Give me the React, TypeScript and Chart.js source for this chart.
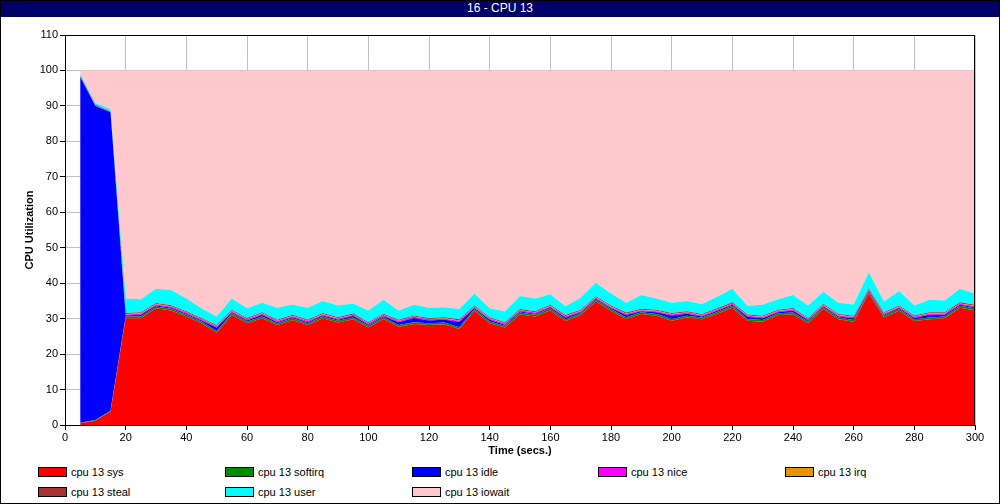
import React, { useEffect, useRef } from 'react';
import { Chart, registerables } from 'chart.js';

Chart.register(...registerables);

const titleText = '16 - CPU 13';
const xTitle = 'Time (secs.)';
const yTitle = 'CPU Utilization';

const times = [5, 10, 15, 20, 25, 30, 35, 40, 45, 50, 55, 60, 65, 70, 75, 80, 85, 90, 95, 100,
  105, 110, 115, 120, 125, 130, 135, 140, 145, 150, 155, 160, 165, 170, 175, 180, 185, 190, 195, 200,
  205, 210, 215, 220, 225, 230, 235, 240, 245, 250, 255, 260, 265, 270, 275, 280, 285, 290, 295, 300];

const sys = [0.5, 1.2, 3.8, 30.1, 30.1, 32.9, 32.3, 30.6, 28.7, 26.0, 31.0, 28.7, 30.1, 28.2, 29.6, 28.2, 30.1, 28.9, 29.8, 27.5,
  29.9, 27.7, 28.5, 28.2, 28.4, 27.1, 32.2, 28.7, 27.5, 31.2, 30.6, 32.4, 29.3, 31.0, 34.8, 32.2, 29.9, 31.3, 30.8, 29.4,
  30.3, 29.8, 31.4, 33.1, 29.4, 29.1, 31.0, 31.2, 28.7, 32.7, 29.8, 29.1, 37.1, 30.3, 32.2, 29.3, 29.8, 30.1, 33.1, 32.4];

const softirq = [0.1, 0.2, 0.2, 0.5, 0.5, 0.5, 0.5, 0.5, 0.5, 0.5, 0.5, 0.5, 0.5, 0.5, 0.5, 0.5, 0.5, 0.5, 0.5, 0.5,
  0.5, 0.5, 0.5, 0.5, 0.5, 0.5, 0.5, 0.5, 0.5, 0.5, 0.5, 0.5, 0.5, 0.5, 0.5, 0.5, 0.5, 0.5, 0.5, 0.5,
  0.5, 0.5, 0.5, 0.5, 0.5, 0.5, 0.5, 0.5, 0.5, 0.5, 0.5, 0.5, 0.5, 0.5, 0.5, 0.5, 0.5, 0.5, 0.5, 0.5];

const idle = [97.6, 88.6, 84.2, 0.3, 0.5, 0.3, 0.3, 0.3, 0.3, 1.0, 0.3, 0.3, 0.5, 0.3, 0.3, 0.3, 0.3, 0.3, 0.5, 0.3,
  0.3, 0.8, 1.2, 0.8, 0.8, 1.5, 0.3, 0.5, 0.3, 0.3, 0.3, 0.3, 0.5, 0.3, 0.3, 0.3, 0.6, 0.3, 0.5, 1.0,
  0.6, 0.3, 0.3, 0.3, 0.6, 0.5, 0.3, 0.6, 0.3, 0.3, 0.3, 0.5, 0.3, 0.3, 0.3, 0.4, 0.8, 0.5, 0.3, 0.3];

const nice = [0.1, 0.1, 0.1, 0.3, 0.3, 0.3, 0.3, 0.3, 0.3, 0.3, 0.3, 0.3, 0.3, 0.3, 0.3, 0.3, 0.3, 0.3, 0.3, 0.3,
  0.3, 0.3, 0.3, 0.3, 0.3, 0.3, 0.3, 0.3, 0.3, 0.3, 0.3, 0.3, 0.3, 0.3, 0.3, 0.3, 0.3, 0.3, 0.3, 0.3,
  0.3, 0.3, 0.3, 0.3, 0.3, 0.3, 0.3, 0.3, 0.3, 0.3, 0.3, 0.3, 0.3, 0.3, 0.3, 0.3, 0.3, 0.3, 0.3, 0.3];

const irq = [0, 0, 0, 0.1, 0.1, 0.1, 0.1, 0.1, 0.1, 0.1, 0.1, 0.1, 0.1, 0.1, 0.1, 0.1, 0.1, 0.1, 0.1, 0.1,
  0.1, 0.1, 0.1, 0.1, 0.1, 0.1, 0.1, 0.1, 0.1, 0.1, 0.1, 0.1, 0.1, 0.1, 0.1, 0.1, 0.1, 0.1, 0.1, 0.1,
  0.1, 0.1, 0.1, 0.1, 0.1, 0.1, 0.1, 0.1, 0.1, 0.1, 0.1, 0.1, 0.1, 0.1, 0.1, 0.1, 0.1, 0.1, 0.1, 0.1];

const steal = [0.2, 0.2, 0.2, 0.3, 0.3, 0.3, 0.3, 0.3, 0.3, 0.3, 0.3, 0.3, 0.3, 0.3, 0.3, 0.3, 0.3, 0.3, 0.3, 0.3,
  0.3, 0.3, 0.3, 0.3, 0.3, 0.3, 0.3, 0.3, 0.3, 0.3, 0.3, 0.3, 0.3, 0.3, 0.3, 0.3, 0.3, 0.3, 0.3, 0.3,
  0.3, 0.3, 0.3, 0.3, 0.3, 0.3, 0.3, 0.3, 0.3, 0.3, 0.3, 0.3, 0.3, 0.3, 0.3, 0.3, 0.3, 0.3, 0.3, 0.3];

const user = [0.6, 0.5, 0.6, 4.1, 3.7, 4.0, 4.3, 3.6, 2.7, 2.4, 3.2, 2.7, 2.7, 3.4, 2.9, 3.4, 3.4, 3.3, 2.8, 3.3,
  3.9, 2.6, 3.0, 2.9, 2.8, 2.9, 3.4, 2.5, 3.0, 3.7, 3.6, 3.0, 2.5, 3.4, 3.8, 3.4, 2.8, 3.9, 3.2, 2.9,
  2.9, 2.8, 3.3, 3.8, 2.4, 3.1, 3.0, 3.7, 3.5, 3.4, 3.2, 3.2, 4.5, 3.0, 4.1, 2.8, 3.5, 3.3, 3.8, 3.2];

const iowait = [0.9, 9.2, 10.9, 64.3, 64.5, 61.6, 61.9, 64.3, 67.1, 69.4, 64.3, 67.1, 65.5, 66.9, 66.0, 66.9, 65.0, 66.3, 65.7, 67.7,
  64.7, 67.7, 66.1, 66.9, 66.8, 67.3, 62.9, 67.1, 68.0, 63.6, 64.3, 63.1, 66.5, 64.1, 59.9, 62.9, 65.5, 63.3, 64.3, 65.5,
  65.0, 65.9, 63.8, 61.6, 66.4, 66.1, 64.5, 63.3, 66.3, 62.4, 65.5, 66.0, 56.9, 65.2, 62.2, 66.3, 64.7, 64.9, 61.6, 62.9];

const seriesNames = ['cpu 13 sys', 'cpu 13 softirq', 'cpu 13 idle', 'cpu 13 nice', 'cpu 13 irq', 'cpu 13 steal', 'cpu 13 user', 'cpu 13 iowait'];
const seriesValues = [sys, softirq, idle, nice, irq, steal, user, iowait];
const seriesColors = ['#ff0000', '#008c00', '#0000ff', '#ff00ff', '#e69500', '#a83232', '#00ffff', '#ffc8cc'];

const legendCols = [38, 225, 412, 598, 785];
const legendRows = [467, 487];

const FONT = 'Arial, "Liberation Sans", sans-serif';

const frameBorder = {
  id: 'frameBorder',
  afterDatasetsDraw(chart: any) {
    const { ctx, chartArea } = chart;
    const l = Math.round(chartArea.left) + 0.5;
    const r = Math.round(chartArea.right) - 0.5;
    const t = Math.round(chartArea.top) + 0.5;
    const b = Math.round(chartArea.bottom) - 0.5;
    ctx.save();
    ctx.strokeStyle = '#000';
    ctx.lineWidth = 1;
    ctx.beginPath();
    ctx.moveTo(l, t);
    ctx.lineTo(r, t);
    ctx.lineTo(r, b);
    ctx.stroke();
    ctx.restore();
  },
};

export default function App() {
  const ref = useRef<HTMLCanvasElement>(null);

  useEffect(() => {
    document.body.style.margin = '0';
    const canvas = ref.current;
    if (!canvas) return;
    const datasets = seriesValues.map((vals, k) => ({
      label: seriesNames[k],
      data: times.map((t, i) => ({ x: t, y: vals[i] })),
      backgroundColor: seriesColors[k],
      borderColor: seriesColors[k],
      borderWidth: 0,
      pointRadius: 0,
      tension: 0,
      fill: k === 0 ? 'origin' : '-1',
    }));
    const chart = new Chart(canvas, {
      type: 'line',
      data: { datasets },
      plugins: [frameBorder],
      options: {
        animation: false,
        responsive: false,
        devicePixelRatio: 1,
        layout: { padding: { top: 35, right: 25, bottom: 0, left: 0 } },
        plugins: {
          legend: { display: false },
          tooltip: { enabled: false },
        },
        scales: {
          x: {
            type: 'linear',
            min: 0,
            max: 300,
            afterFit: (s: any) => { s.height = 35; },
            ticks: { stepSize: 20, color: '#000', font: { family: FONT, size: 11 }, padding: 1, maxRotation: 0 },
            grid: { color: '#c0c0c0', tickColor: '#000', tickLength: 5 },
            border: { color: '#000', width: 1 },
            title: { display: true, text: xTitle, color: '#000', font: { family: FONT, size: 11, weight: 'bold' }, padding: { top: 0, bottom: 2 } },
          },
          y: {
            type: 'linear',
            stacked: true,
            min: 0,
            max: 110,
            afterFit: (s: any) => { s.width = 65; },
            ticks: { stepSize: 10, color: '#000', font: { family: FONT, size: 11 }, padding: 2 },
            grid: { color: '#c0c0c0', tickColor: '#000', tickLength: 5 },
            border: { color: '#000', width: 1 },
            title: { display: true, text: yTitle, color: '#000', font: { family: FONT, size: 11, weight: 'bold' }, padding: { top: 23, bottom: 0 } },
          },
        },
      } as any,
    });
    return () => chart.destroy();
  }, []);

  return (
    <div style={{ position: 'absolute', left: 0, top: 0, width: 1000, height: 504, background: '#fff', overflow: 'hidden', fontFamily: FONT }}>
      <div style={{ position: 'absolute', left: 0, top: 0, width: 1000, height: 17, background: '#000066', color: '#fff', fontSize: 12, lineHeight: '17px', textAlign: 'center' }}>
        {titleText}
      </div>
      <canvas ref={ref} width={1000} height={460} style={{ position: 'absolute', left: 0, top: 0, width: 1000, height: 460 }} />
      {seriesNames.map((name, k) => {
        const col = k % 5;
        const row = Math.floor(k / 5);
        const left = legendCols[col];
        const top = legendRows[row];
        return (
          <div key={name} style={{ position: 'absolute', left, top: top - 3, height: 16, display: 'flex', alignItems: 'center', fontSize: 11, color: '#000', whiteSpace: 'nowrap' }}>
            <span style={{ display: 'inline-block', width: 29, height: 10, boxSizing: 'border-box', border: '1px solid #000', background: seriesColors[k], marginRight: 4 }} />
            <span>{name}</span>
          </div>
        );
      })}
      <div style={{ position: 'absolute', left: 0, top: 0, width: 1000, height: 504, boxSizing: 'border-box', border: '1px solid #000', pointerEvents: 'none' }} />
    </div>
  );
}
